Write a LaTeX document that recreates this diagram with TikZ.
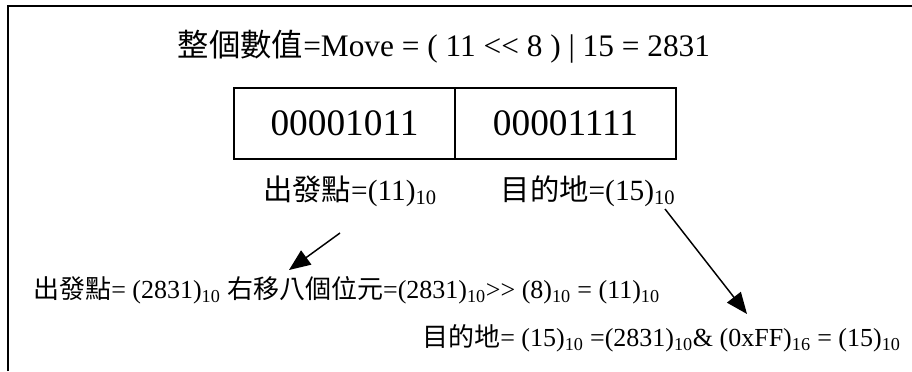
\documentclass[tikz,border=0pt]{standalone}
\usepackage{fontspec}
\setmainfont{Liberation Serif}
\newfontfamily\cjk{Noto Sans CJK TC}
\usetikzlibrary{arrows.meta}
\newcommand\lsub[1]{\textsubscript{#1}}
\begin{document}
\begin{tikzpicture}[x=0.75pt,y=-0.75pt,
  frameline/.style={line width=1.3pt},
  cell/.style={draw,line width=0.9pt,minimum width=165.75pt,minimum height=53.25pt,inner sep=0pt,font=\fontsize{28}{32}\selectfont},
  titletext/.style={inner sep=0pt,font=\fontsize{23.5}{27}\selectfont},
  labeltext/.style={inner sep=0pt,font=\fontsize{22}{26}\selectfont},
  formula/.style={inner sep=0pt,font=\fontsize{19.5}{23}\selectfont},
  arr/.style={line width=1.1pt,-{Triangle[length=16pt,width=13pt]}}]
\useasboundingbox (0,0) rectangle (912,371);
% frame (top and left edges)
\draw[frameline] (8,371) -- (8,6) -- (912,6);
% title
\node[titletext] (title) at (444,47) {{\cjk 整個數值}=Move = ( 11 {<}{<} 8 ) | 15 = 2831};
% register cells
\node[cell] (hi) at (344.5,123.5) {00001011};
\node[cell] (lo) at (565.5,123.5) {00001111};
% labels
\node[labeltext] (src) at (350,191) {{\cjk 出發點}=(11)\lsub{10}};
\node[labeltext] (dst) at (588,191) {{\cjk 目的地}=(15)\lsub{10}};
% formulas
\node[formula,anchor=west] (f1) at (33,290) {{\cjk 出發點}= (2831)\lsub{10} {\cjk 右移八個位元}=(2831)\lsub{10}{>}{>} (8)\lsub{10} = (11)\lsub{10}};
\node[formula,anchor=west] (f2) at (422,338) {{\cjk 目的地}= (15)\lsub{10} =(2831)\lsub{10}\& (0xFF)\lsub{16} = (15)\lsub{10}};
% arrows
\coordinate (a1s) at (340,233);
\coordinate (a1e) at (289,270);
\coordinate (a2s) at (665,209);
\coordinate (a2e) at (747,314);
\draw[arr] (a1s) -- (a1e);
\draw[arr] (a2s) -- (a2e);
\end{tikzpicture}
\end{document}
